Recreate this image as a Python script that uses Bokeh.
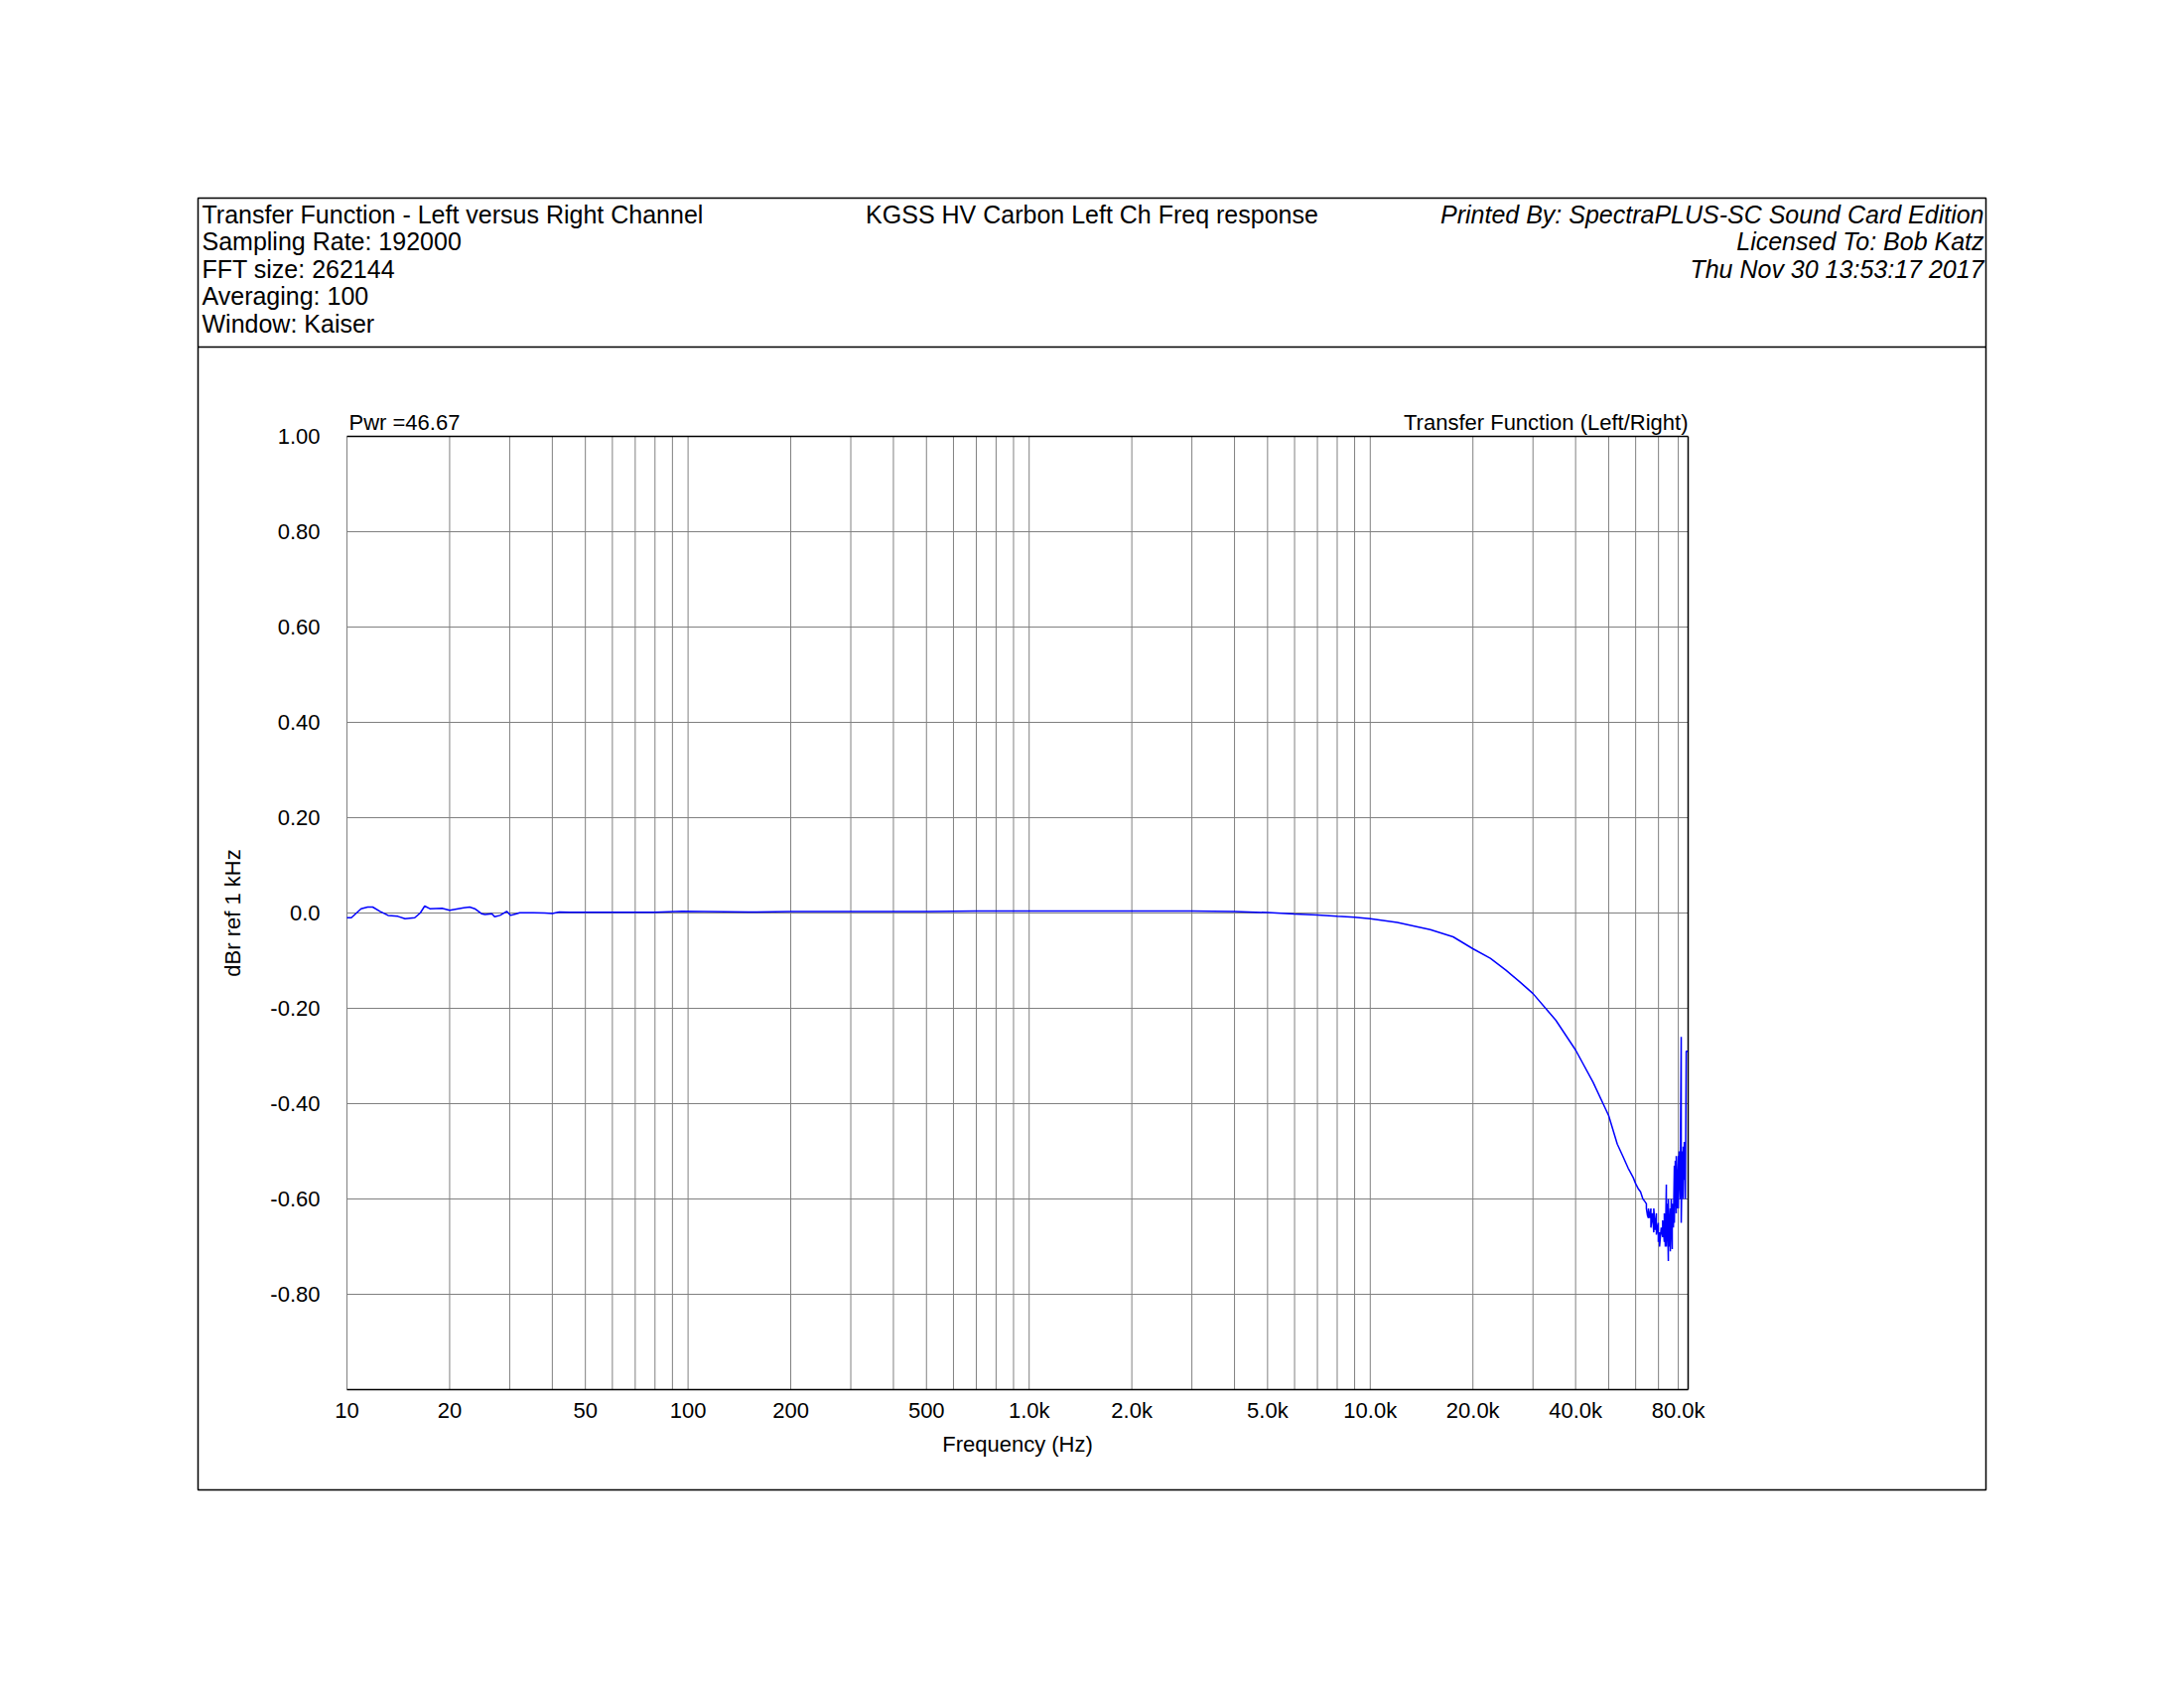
import math
from bokeh.plotting import figure
from bokeh.models import Range1d
from bokeh.core.properties import value
from bokeh.embed import file_html
from bokeh.resources import INLINE

# ---------------- data ----------------
freq_hz = [10, 10.3, 11.0, 11.5, 11.9, 12.5, 13.2, 14.1, 14.8, 15.8, 16.4, 16.9, 17.5, 19.0, 20.0,
           22.0, 22.9, 23.7, 24.8, 25.4, 26.6, 27.1, 28.1, 29.4, 30.2, 31.4, 32.1, 35.2, 38, 40, 41.9,
           45, 50, 60, 70, 80, 96, 150, 200, 300, 500, 700, 1000, 1500, 2000, 3000, 4000, 5000, 6000,
           7000, 8000, 9000, 10000, 12000, 15000, 17500, 20000, 22500, 25000, 27500, 30000, 35000,
           40000, 45000, 50000, 53000, 55000, 57000, 58000, 59000, 60000, 61000, 62000, 63000,
           63800, 64500, 64500, 65000, 65400, 65400, 66000, 66500, 66500, 67200, 67800, 67800,
           68500, 69000, 69000, 69900, 69900, 70500, 70500, 71300, 72000, 72000, 72800, 72800,
           73300, 73800, 73800, 74300, 74800, 74800, 75300, 75800, 75800, 76300, 76800, 76800,
           77400, 77900, 77900, 78400, 78900, 78900, 79500, 80000, 80000, 80500, 81100, 81100,
           81600, 81600, 82200, 82700, 82700, 83300, 83300, 83900, 84400, 85300]
level_dbr = [-0.010, -0.010, 0.009, 0.0125, 0.0125, 0.0035, -0.005, -0.007, -0.012, -0.010, 0.0,
             0.0146, 0.009, 0.010, 0.0056, 0.011, 0.0125, 0.009, -0.0014, -0.003, -0.0014, -0.008,
             -0.005, 0.0035, -0.005, -0.0014, 0.0007, 0.0007, 0.0, -0.001, 0.002, 0.0014, 0.0014,
             0.0014, 0.0014, 0.0014, 0.0035, 0.002, 0.003, 0.003, 0.003, 0.004, 0.004, 0.004, 0.004,
             0.004, 0.003, 0.001, -0.002, -0.004, -0.007, -0.009, -0.012, -0.02, -0.035, -0.05,
             -0.075, -0.095, -0.12, -0.145, -0.169, -0.225, -0.2875, -0.355, -0.425, -0.485,
             -0.51, -0.535, -0.545, -0.555, -0.568, -0.578, -0.585, -0.60,
             -0.605, -0.61, -0.62, -0.635, -0.64, -0.62, -0.64, -0.62, -0.66,
             -0.63, -0.67, -0.62, -0.665, -0.63, -0.675, -0.65, -0.69, -0.67, -0.70,
             -0.66, -0.68, -0.645, -0.69, -0.63, -0.70, -0.57, -0.70, -0.61, -0.73, -0.60,
             -0.70, -0.62, -0.71, -0.60, -0.705, -0.61, -0.66, -0.53, -0.65, -0.52, -0.63, -0.51,
             -0.62, -0.51, -0.62, -0.50, -0.60, -0.52, -0.26, -0.65, -0.50, -0.60, -0.49,
             -0.56, -0.48, -0.60, -0.29, -0.29]

x_min, x_max = 10, 85500
y_min, y_max = -1.0, 1.0
x_ticks = [10, 20, 50, 100, 200, 500, 1000, 2000, 5000, 10000, 20000, 40000, 80000]
x_tick_labels = ["10", "20", "50", "100", "200", "500", "1.0k", "2.0k", "5.0k", "10.0k", "20.0k",
                 "40.0k", "80.0k"]
x_grid = [20, 30, 40, 50, 60, 70, 80, 90, 100, 200, 300, 400, 500, 600, 700, 800, 900,
          1000, 2000, 3000, 4000, 5000, 6000, 7000, 8000, 9000, 10000, 20000, 30000, 40000,
          50000, 60000, 70000, 80000]
y_ticks = [1.0, 0.8, 0.6, 0.4, 0.2, 0.0, -0.2, -0.4, -0.6, -0.8]
y_tick_labels = ["1.00", "0.80", "0.60", "0.40", "0.20", "0.0", "-0.20", "-0.40", "-0.60", "-0.80"]
y_grid = [-0.8, -0.6, -0.4, -0.2, 0.0, 0.2, 0.4, 0.6, 0.8]

header_left = ["Transfer Function - Left versus Right Channel", "Sampling Rate: 192000",
               "FFT size: 262144", "Averaging: 100", "Window: Kaiser"]
header_center = "KGSS HV Carbon Left Ch Freq response"
header_right = ["Printed By: SpectraPLUS-SC Sound Card Edition", "Licensed To: Bob Katz",
                "Thu Nov 30 13:53:17 2017"]
x_axis_title = "Frequency (Hz)"
y_axis_title = "dBr ref 1 kHz"
caption_left = "Pwr =46.67"
caption_right = "Transfer Function (Left/Right)"

# ---------------- layout (page pixels) ----------------
BOX_L, BOX_T, BOX_R, BOX_B = 199, 199, 2000, 1500     # outer page box = plot frame
PL, PT, PR, PB = 349, 439, 1700, 1399                 # inner chart area
HDR_Y = 349                                           # header divider
FONT = "Liberation Sans"
GRID = "#808080"

dec_px = (PR - PL) / math.log10(x_max / x_min)
unit_px = (PB - PT) / (y_max - y_min)


def px_x(px):
    return 10 ** (math.log10(x_min) + (px - PL) / dec_px)


def px_y(py):
    return y_max - (py - PT) / unit_px


p = figure(width=BOX_R + 10, height=BOX_B + 10, x_axis_type="log",
           x_range=Range1d(px_x(BOX_L), px_x(BOX_R)), y_range=Range1d(px_y(BOX_B), px_y(BOX_T)),
           x_axis_location=None, y_axis_location=None, output_backend="svg",
           toolbar_location=None, min_border_left=BOX_L, min_border_top=BOX_T,
           min_border_right=10, min_border_bottom=10)
p.outline_line_color = "black"
p.outline_line_width = 1.5
p.xgrid.visible = False
p.ygrid.visible = False
p.background_fill_color = "white"
p.border_fill_color = "white"

# header divider
p.segment(x0=[px_x(BOX_L)], x1=[px_x(BOX_R)], y0=[px_y(HDR_Y)], y1=[px_y(HDR_Y)],
          line_color="black", line_width=1.5)

# chart grid
p.segment(x0=x_grid, x1=x_grid, y0=[y_min] * len(x_grid), y1=[y_max] * len(x_grid),
          line_color=GRID, line_width=1)
p.segment(x0=[x_min] * len(y_grid), x1=[x_max] * len(y_grid), y0=y_grid, y1=y_grid,
          line_color=GRID, line_width=1)
p.segment(x0=[x_min], x1=[x_min], y0=[y_min], y1=[y_max], line_color=GRID, line_width=1)
p.segment(x0=[x_min, x_min, x_max], x1=[x_max, x_max, x_max], y0=[y_max, y_min, y_min],
          y1=[y_max, y_min, y_max], line_color="black", line_width=1.5)

# data
p.line(freq_hz, level_dbr, line_color="#0000FF", line_width=1.5)

# tick labels
p.text(x=x_ticks, y=[y_min] * len(x_ticks), text=x_tick_labels, y_offset=21,
       text_font=value(FONT), text_font_size="22px", text_align="center", text_baseline="middle",
       text_color="black")
p.text(x=[x_min] * len(y_ticks), y=y_ticks, text=y_tick_labels, x_offset=-27,
       text_font=value(FONT), text_font_size="22px", text_align="right", text_baseline="middle",
       text_color="black")

# axis titles
p.text(x=[math.sqrt(x_min * x_max)], y=[y_min], text=[x_axis_title], y_offset=55,
       text_font=value(FONT), text_font_size="22px", text_align="center", text_baseline="middle")
p.text(x=[x_min], y=[(y_min + y_max) / 2], text=[y_axis_title], x_offset=-115, angle=math.pi / 2,
       text_font=value(FONT), text_font_size="22px", text_align="center", text_baseline="middle")

# chart captions
p.text(x=[x_min], y=[y_max], text=[caption_left], x_offset=2, y_offset=-14,
       text_font=value(FONT), text_font_size="22px", text_align="left", text_baseline="middle")
p.text(x=[x_max], y=[y_max], text=[caption_right], y_offset=-14,
       text_font=value(FONT), text_font_size="22px", text_align="right", text_baseline="middle")

# header texts
rows = [215, 242.5, 270, 297.5, 325]
p.text(x=[px_x(BOX_L + 4)] * len(header_left), y=[px_y(r) for r in rows], text=header_left,
       text_font=value(FONT), text_font_size="25px", text_align="left", text_baseline="middle")
p.text(x=[px_x((BOX_L + BOX_R) / 2)], y=[px_y(rows[0])], text=[header_center],
       text_font=value(FONT), text_font_size="25px", text_align="center", text_baseline="middle")
p.text(x=[px_x(BOX_R - 2)] * len(header_right), y=[px_y(r) for r in rows[:3]], text=header_right,
       text_font=value(FONT), text_font_size="25px", text_font_style="italic", text_align="right",
       text_baseline="middle")

open("out.html", "w").write(file_html(p, INLINE))
